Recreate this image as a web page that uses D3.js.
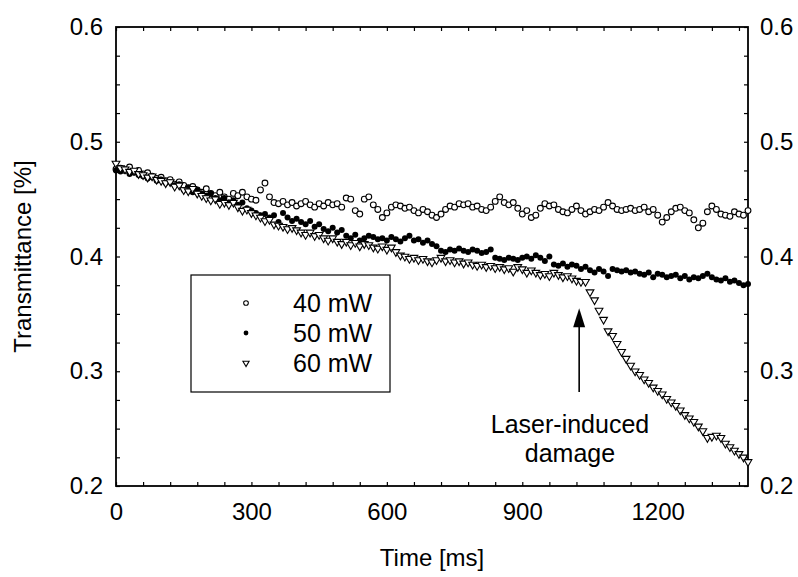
<!DOCTYPE html>
<html>
<head>
<meta charset="utf-8">
<script src="https://cdn.jsdelivr.net/npm/d3@7"></script>
<style>
  html, body { margin: 0; padding: 0; background: #fff; }
  svg { display: block; }
  text { font-family: "Liberation Sans", Arial, Helvetica, sans-serif; fill: #000; }
</style>
</head>
<body>
<svg id="chart" width="798" height="577"></svg>
<script>
// ---- data ----
const timeStart = 0, timeEnd = 1400, timeStep = 10; // sampling grid [ms]
const seriesNames = ["40 mW", "50 mW", "60 mW"];

const p40 = [
0.476,0.477,0.475,0.478,0.474,0.475,0.472,0.473,0.470,0.468,
0.469,0.466,0.467,0.463,0.465,0.462,0.460,0.461,0.458,0.456,
0.459,0.455,0.453,0.456,0.452,0.450,0.455,0.453,0.456,0.452,
0.450,0.449,0.458,0.464,0.452,0.447,0.446,0.448,0.445,0.447,
0.444,0.446,0.448,0.445,0.443,0.446,0.444,0.447,0.445,0.446,
0.443,0.451,0.450,0.440,0.437,0.450,0.452,0.445,0.441,0.434,
0.438,0.443,0.445,0.444,0.442,0.443,0.440,0.438,0.441,0.439,
0.436,0.434,0.437,0.441,0.444,0.443,0.446,0.445,0.446,0.443,
0.444,0.441,0.440,0.443,0.448,0.452,0.447,0.445,0.447,0.442,
0.437,0.440,0.434,0.436,0.442,0.446,0.444,0.445,0.441,0.439,
0.438,0.441,0.444,0.440,0.437,0.439,0.441,0.440,0.443,0.447,
0.444,0.441,0.440,0.441,0.442,0.440,0.441,0.443,0.439,0.441,
0.436,0.430,0.434,0.439,0.442,0.443,0.440,0.438,0.432,0.425,
0.429,0.439,0.444,0.441,0.437,0.436,0.435,0.439,0.437,0.436,
0.440];

const p50 = [
0.475,0.474,0.476,0.472,0.473,0.471,0.470,0.468,0.469,0.466,
0.467,0.464,0.465,0.462,0.463,0.458,0.460,0.456,0.458,0.455,
0.453,0.455,0.451,0.449,0.451,0.447,0.449,0.445,0.447,0.442,
0.440,0.438,0.436,0.437,0.434,0.436,0.430,0.438,0.434,0.431,
0.433,0.430,0.428,0.431,0.426,0.428,0.424,0.422,0.425,0.421,
0.423,0.418,0.416,0.419,0.414,0.416,0.418,0.417,0.415,0.416,
0.414,0.417,0.415,0.413,0.416,0.418,0.414,0.415,0.412,0.414,
0.411,0.409,0.405,0.404,0.406,0.405,0.407,0.405,0.404,0.406,
0.405,0.403,0.404,0.406,0.399,0.398,0.397,0.399,0.398,0.397,
0.399,0.400,0.398,0.401,0.399,0.396,0.400,0.393,0.392,0.394,
0.391,0.393,0.392,0.389,0.391,0.388,0.386,0.389,0.387,0.383,
0.389,0.388,0.387,0.388,0.386,0.387,0.385,0.384,0.386,0.382,
0.385,0.384,0.382,0.383,0.384,0.381,0.383,0.380,0.382,0.381,
0.383,0.385,0.382,0.380,0.379,0.381,0.378,0.379,0.377,0.375,
0.376];

const p60 = [
0.481,0.477,0.476,0.474,0.475,0.472,0.471,0.469,0.470,0.467,
0.466,0.464,0.465,0.461,0.462,0.458,0.457,0.459,0.455,0.453,
0.451,0.449,0.450,0.446,0.447,0.445,0.447,0.443,0.440,0.441,
0.438,0.436,0.434,0.431,0.432,0.428,0.427,0.426,0.424,0.425,
0.423,0.421,0.419,0.421,0.418,0.419,0.416,0.414,0.416,0.413,
0.411,0.413,0.410,0.412,0.409,0.411,0.410,0.408,0.407,0.409,
0.406,0.408,0.404,0.401,0.400,0.398,0.399,0.397,0.398,0.396,
0.395,0.397,0.399,0.396,0.397,0.395,0.396,0.394,0.395,0.393,
0.392,0.393,0.391,0.392,0.390,0.391,0.389,0.390,0.387,0.391,
0.389,0.386,0.388,0.386,0.384,0.385,0.383,0.386,0.384,0.382,
0.383,0.381,0.379,0.378,0.378,0.369,0.362,0.353,0.345,0.335,
0.331,0.324,0.317,0.311,0.305,0.300,0.297,0.293,0.290,0.286,
0.283,0.280,0.276,0.273,0.270,0.266,0.262,0.259,0.256,0.252,
0.248,0.242,0.243,0.244,0.242,0.237,0.234,0.231,0.228,0.225,
0.221];

const xTickLabels = [0, 300, 600, 900, 1200];
const yTickLabels = [0.2, 0.3, 0.4, 0.5, 0.6];
const xMinorStep = 60;
const yMinorStep = 0.025;
const annotationLines = ["Laser-induced", "damage"];
const annotationTime = 1026, annotationFrom = 0.282, annotationTo = 0.355;
const xLabel = "Time [ms]";
const yLabel = "Transmittance [%]";

// ---- layout ----
const svg = d3.select("#chart");
const L = 116, R = 748, T = 27, B = 486;

const x = d3.scaleLinear().domain([0, 1400]).range([L, R]);
const y = d3.scaleLinear().domain([0.2, 0.6]).range([B, T]);

const times = d3.range(timeStart, timeEnd + 1, timeStep);
const xMinor = d3.range(0, 1400 + 1e-9, xMinorStep);
const yMinor = d3.range(0, 17).map(i => +(0.2 + i * yMinorStep).toFixed(3));

const FS = 24;

function styleAxis(g) {
  g.select(".domain").remove();
  g.selectAll(".tick line").attr("stroke", "#000").attr("stroke-width", 1.2);
  g.selectAll("text").style("font-size", FS + "px").attr("fill", "#000");
}

// bottom
svg.append("g").attr("transform", `translate(0,${B})`)
  .call(d3.axisBottom(x).tickValues(xMinor).tickSize(-4).tickPadding(17)
    .tickFormat(d => xTickLabels.includes(d) ? d3.format("d")(d) : ""))
  .call(styleAxis);
// top
svg.append("g").attr("transform", `translate(0,${T})`)
  .call(d3.axisTop(x).tickValues(xMinor).tickSize(-4).tickFormat(""))
  .call(styleAxis);
// left
svg.append("g").attr("transform", `translate(${L},0)`)
  .call(d3.axisLeft(y).tickValues(yMinor).tickSize(-4).tickPadding(13)
    .tickFormat(d => yTickLabels.some(v => Math.abs(v - d) < 1e-6) ? d3.format(".1f")(d) : ""))
  .call(styleAxis);
// right
svg.append("g").attr("transform", `translate(${R},0)`)
  .call(d3.axisRight(y).tickValues(yMinor).tickSize(-4).tickPadding(12)
    .tickFormat(d => yTickLabels.some(v => Math.abs(v - d) < 1e-6) ? d3.format(".1f")(d) : ""))
  .call(styleAxis);

// frame
svg.append("rect").attr("x", L).attr("y", T).attr("width", R - L).attr("height", B - T)
  .attr("fill", "none").attr("stroke", "#000").attr("stroke-width", 1.8);

// markers
function drawMarker(sel, kind, s) {
  if (kind === 0) {
    sel.append("circle").attr("r", 2.9 * s).attr("fill", "#fff").attr("stroke", "#000").attr("stroke-width", 1.1);
  } else if (kind === 1) {
    sel.append("circle").attr("r", 3.0 * s).attr("fill", "#000");
  } else {
    sel.append("path").attr("d", d3.symbol().type(d3.symbolTriangle).size(26 * s * s)())
      .attr("transform", "rotate(180)")
      .attr("fill", "#fff").attr("stroke", "#000").attr("stroke-width", 1.1);
  }
}

const series = [p40, p50, p60];
const plot = svg.append("g");
series.forEach((vals, k) => {
  const g = plot.append("g");
  vals.forEach((v, i) => {
    const m = g.append("g").attr("transform", `translate(${x(times[i])},${y(v)})`);
    drawMarker(m, k, 1);
  });
});

// legend
const lg = svg.append("g");
lg.append("rect").attr("x", 191).attr("y", 275).attr("width", 199).attr("height", 117)
  .attr("fill", "#fff").attr("stroke", "#000").attr("stroke-width", 1.2);
seriesNames.forEach((name, k) => {
  const cy = 303 + k * 30;
  const m = lg.append("g").attr("transform", `translate(246,${cy})`);
  drawMarker(m, k, 0.8);
  lg.append("text").attr("x", 293).attr("y", cy + 9).style("font-size", "25px").text(name);
});

// annotation arrow
const ax = x(annotationTime);
const yTip = y(annotationTo), yBase = y(annotationFrom);
svg.append("line").attr("x1", ax).attr("x2", ax).attr("y1", yBase).attr("y2", yTip + 16)
  .attr("stroke", "#000").attr("stroke-width", 1.6);
svg.append("path")
  .attr("d", `M${ax},${yTip} L${ax - 6},${yTip + 19} L${ax + 6},${yTip + 19} Z`)
  .attr("fill", "#000");
annotationLines.forEach((s, i) => {
  svg.append("text").attr("x", 570).attr("y", 433 + i * 29).attr("text-anchor", "middle")
    .style("font-size", "25px").text(s);
});

// axis labels
svg.append("text").attr("x", (L + R) / 2).attr("y", 566).attr("text-anchor", "middle")
  .style("font-size", "24px").text(xLabel);
svg.append("text").attr("transform", `translate(31,${(T + B) / 2}) rotate(-90)`)
  .attr("text-anchor", "middle").style("font-size", "24px").text(yLabel);
</script>
</body>
</html>
